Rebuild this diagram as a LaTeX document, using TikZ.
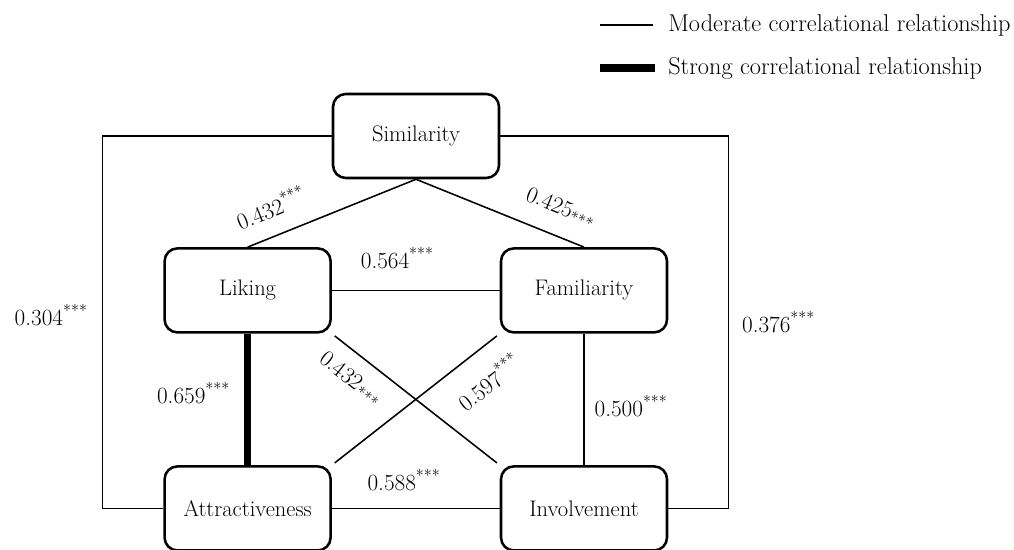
\documentclass[tikz,border=0pt]{standalone}
\usepackage{fontspec}
\usetikzlibrary{positioning}
\tikzstyle{factor} = [rectangle, rounded corners=0.32cm, minimum width=4.15cm, minimum height=2.1cm, text centered, draw=black, line width=1.8pt]
\tikzstyle{link} = [line width=1.1pt]
\tikzstyle{strong} = [line width=5pt]
\tikzset{
	coef/.style={inner sep=2pt, font=\fontsize{16.5}{19}\selectfont},
	legtext/.style={anchor=west, inner sep=0pt, font=\fontsize{17.3}{20}\selectfont}
}

\begin{document}
\begin{tikzpicture}[node distance=8.41cm, every node/.style={font=\fontsize{16}{19}\selectfont}]
		\useasboundingbox (0,0) rectangle (25.35,-13.75);
		
		% Legend
		\coordinate (modA) at (15,-0.625);
		\coordinate (modB) at (16.33,-0.625);
		\coordinate (strA) at (15,-1.7);
		\coordinate (strB) at (16.38,-1.7);
		\draw [link] (modA) -- (modB);
		\draw [strong] (strA) -- (strB);
		\node (mod) [legtext, right=0.37cm of modB] {Moderate correlational relationship};
		\node (str) [legtext, right=0.32cm of strB] {Strong correlational relationship};
		
		% Nodes
		\node (S) [factor] at (10.4,-3.4) {Similarity};
		\node (L) [factor] at (6.19,-7.26) {Liking};
		\node (F) [factor, right of=L] {Familiarity};
		\node (A) [factor, node distance=5.45cm, below of=L] {Attractiveness};
		\node (I) [factor, right of=A] {Involvement};
		
		% Correlations with coefficients
		\draw [link] (S.south) -- (L.north) node[coef, pos=0.8, sloped, above=10pt] {0.432\textsuperscript{***}};
		\draw [link] (S.south) -- (F.north) node[coef, pos=0.8, sloped, above=10pt] {0.425\textsubscript{***}};
		\draw [link] (L) -- (F) node[coef, pos=0.39, above=13pt] {0.564\textsuperscript{***}};
		\draw [link] (A) -- (I) node[coef, pos=0.43, above=10pt] {0.588\textsuperscript{***}};
		\draw [strong] (L) -- (A) node[coef, pos=0.45, left=8pt] {0.659\textsuperscript{***}};
		\draw [link] (F) -- (I) node[coef, pos=0.55, right=5pt] {0.500\textsuperscript{***}};
		\draw [link, shorten <=0.09cm, shorten >=0.09cm] (L.south east) -- (I.north west) node[coef, pos=0.2, sloped, below=8pt] {0.432\textsubscript{***}};
		\draw [link, shorten <=0.09cm, shorten >=0.09cm] (A.north east) -- (F.south west) node[coef, pos=0.82, sloped, below=12pt] {0.597\textsuperscript{***}};
		\draw [link] (S.west) -| ([xshift=-1.52cm]A.west) node[coef, pos=0.74, left=8pt] {0.304\textsuperscript{***}} -- (A.west);
		\draw [link] (S.east) -| ([xshift=1.51cm]I.east) node[coef, pos=0.75, right=7pt] {0.376\textsuperscript{***}} -- (I.east);
		
	\end{tikzpicture}
\end{document}
